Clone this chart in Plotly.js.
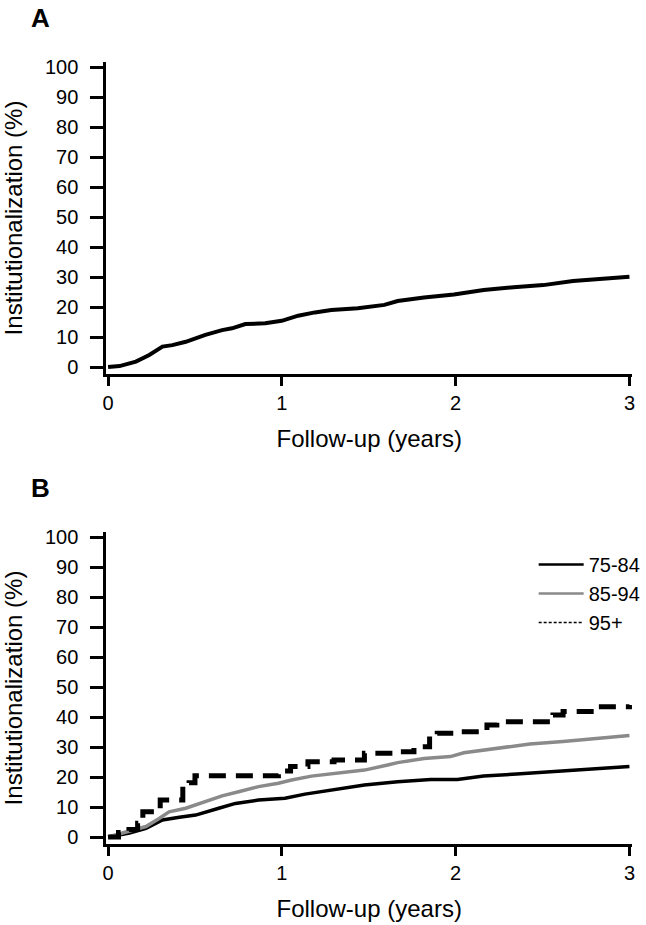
<!DOCTYPE html>
<html>
<head>
<meta charset="utf-8">
<script src="https://cdn.plot.ly/plotly-3.0.1.min.js"></script>
<style>html,body{margin:0;padding:0;background:#fff;}#chart{width:646px;height:925px;}</style>
</head>
<body>
<div id="chart"></div>
<script>
// Panel A: overall cumulative institutionalization
const yearsA = [0, 0.066, 0.16, 0.237, 0.313, 0.37, 0.447, 0.56, 0.656, 0.713, 0.79, 0.904, 0.999, 1.094, 1.19, 1.285, 1.437, 1.59, 1.666, 1.818, 1.99, 2.161, 2.333, 2.504, 2.675, 2.847, 3.0];
const pctA   = [0, 0.3, 1.8, 4.0, 6.8, 7.3, 8.4, 10.7, 12.3, 12.9, 14.3, 14.6, 15.4, 17.1, 18.2, 19.0, 19.6, 20.7, 22.0, 23.2, 24.2, 25.7, 26.6, 27.3, 28.7, 29.6, 30.1];

// Panel B: by age group
const groupNames = ["75-84", "85-94", "95+"];
const years7584 = [0, 0.123, 0.218, 0.313, 0.41, 0.504, 0.637, 0.733, 0.866, 1.018, 1.133, 1.285, 1.475, 1.666, 1.856, 2.01, 2.161, 2.351, 2.542, 2.733, 3.0];
const pct7584   = [0, 1.3, 2.9, 5.7, 6.6, 7.3, 9.6, 11.2, 12.3, 12.9, 14.3, 15.7, 17.3, 18.4, 19.2, 19.2, 20.3, 21.0, 21.8, 22.6, 23.5];
const years8594 = [0, 0.123, 0.218, 0.294, 0.351, 0.447, 0.561, 0.656, 0.751, 0.866, 0.98, 1.056, 1.17, 1.323, 1.475, 1.609, 1.666, 1.818, 1.97, 2.047, 2.237, 2.427, 2.618, 2.808, 3.0];
const pct8594   = [0, 1.9, 3.5, 6.2, 8.4, 9.6, 11.8, 13.7, 15.1, 16.8, 17.9, 19.0, 20.3, 21.2, 22.3, 24.0, 24.8, 26.2, 26.8, 28.1, 29.6, 31.0, 31.8, 32.9, 33.8];
const years95   = [0, 0.06, 0.12, 0.17, 0.2, 0.3, 0.43, 0.466, 0.5, 0.98, 1.05, 1.15, 1.3, 1.475, 1.647, 1.76, 1.85, 1.894, 1.99, 2.18, 2.237, 2.39, 2.56, 2.618, 2.808, 3.0];
const pct95     = [0, 1.5, 2.5, 4.6, 8.4, 12.3, 17.3, 18.1, 20.4, 22.0, 23.5, 25.1, 25.7, 27.9, 28.4, 30.1, 33.8, 34.6, 35.1, 37.3, 38.4, 38.4, 40.7, 41.8, 43.4, 44.0];

const xTickVals = [0, 1, 2, 3];
const yTickVals = [0, 10, 20, 30, 40, 50, 60, 70, 80, 90, 100];
const xTitle = "Follow-up (years)";
const yTitle = "Institutionalization (%)";

const FONT = "Liberation Sans, Arial, Helvetica, sans-serif";

const traces = [
  {x: yearsA, y: pctA, xaxis: 'x', yaxis: 'y', mode: 'lines', line: {color: '#000', width: 4}, showlegend: false, hoverinfo: 'skip'},
  {x: years7584, y: pct7584, xaxis: 'x2', yaxis: 'y2', mode: 'lines', line: {color: '#000', width: 3.5}, showlegend: false, name: groupNames[0]},
  {x: years8594, y: pct8594, xaxis: 'x2', yaxis: 'y2', mode: 'lines', line: {color: '#8a8a8a', width: 3.5}, showlegend: false, name: groupNames[1]},
  {x: years95, y: pct95, xaxis: 'x2', yaxis: 'y2', mode: 'lines', line: {color: '#000', width: 5, dash: '17px,10px', shape: 'hv'}, showlegend: false, name: groupNames[2]},
  // legend-only entries (thin symbols as in the reference legend)
  {x: [null], y: [null], xaxis: 'x2', yaxis: 'y2', mode: 'lines', line: {color: '#000', width: 2.5}, name: groupNames[0]},
  {x: [null], y: [null], xaxis: 'x2', yaxis: 'y2', mode: 'lines', line: {color: '#8a8a8a', width: 2.5}, name: groupNames[1]},
  {x: [null], y: [null], xaxis: 'x2', yaxis: 'y2', mode: 'lines', line: {color: '#000', width: 1.5, dash: '3px,2px'}, name: groupNames[2]}
];

function xAxis(anchor) {
  return {
    anchor: anchor,
    domain: [107/646, 636/646],
    range: [-0.01, 3.015],
    tickvals: xTickVals,
    ticks: 'outside', ticklen: 9, tickwidth: 3, tickcolor: '#000',
    showline: true, linewidth: 3, linecolor: '#000',
    showgrid: false, zeroline: false,
    tickfont: {family: FONT, size: 20, color: '#000'},
    ticklabelstandoff: 0,
    title: {text: xTitle, font: {family: FONT, size: 24, color: '#000'}, standoff: 18},
    fixedrange: true
  };
}
function yAxis(anchor, domain) {
  return {
    anchor: anchor,
    domain: domain,
    range: [-2.33, 101.67],
    tickvals: yTickVals,
    ticks: 'outside', ticklen: 13, tickwidth: 3, tickcolor: '#000',
    showline: true, linewidth: 3, linecolor: '#000',
    showgrid: false, zeroline: false,
    tickfont: {family: FONT, size: 20, color: '#000'},
    ticklabelstandoff: 8,
    title: {text: yTitle, font: {family: FONT, size: 24, color: '#000'}, standoff: 18},
    fixedrange: true
  };
}

const layout = {
  width: 646, height: 925,
  margin: {l: 0, r: 0, t: 0, b: 0},
  paper_bgcolor: '#fff', plot_bgcolor: '#fff',
  font: {family: FONT, color: '#000'},
  xaxis: xAxis('y'),
  yaxis: yAxis('x', [551/925, 863/925]),
  xaxis2: xAxis('y2'),
  yaxis2: yAxis('x2', [81/925, 393/925]),
  showlegend: true,
  legend: {
    x: 537/646, xanchor: 'left',
    y: 1 - 545/925, yanchor: 'top',
    bgcolor: 'rgba(0,0,0,0)',
    font: {family: FONT, size: 20, color: '#000'},
    itemwidth: 45,
    tracegroupgap: 0
  },
  annotations: [
    {text: '<b>A</b>', xref: 'paper', yref: 'paper', x: 41/646, y: 1 - 18/925, xanchor: 'center', yanchor: 'middle', showarrow: false, font: {family: FONT, size: 26, color: '#000'}},
    {text: '<b>B</b>', xref: 'paper', yref: 'paper', x: 41/646, y: 1 - 488/925, xanchor: 'center', yanchor: 'middle', showarrow: false, font: {family: FONT, size: 26, color: '#000'}}
  ]
};

Plotly.newPlot('chart', traces, layout, {displayModeBar: false, staticPlot: true});
</script>
</body>
</html>
